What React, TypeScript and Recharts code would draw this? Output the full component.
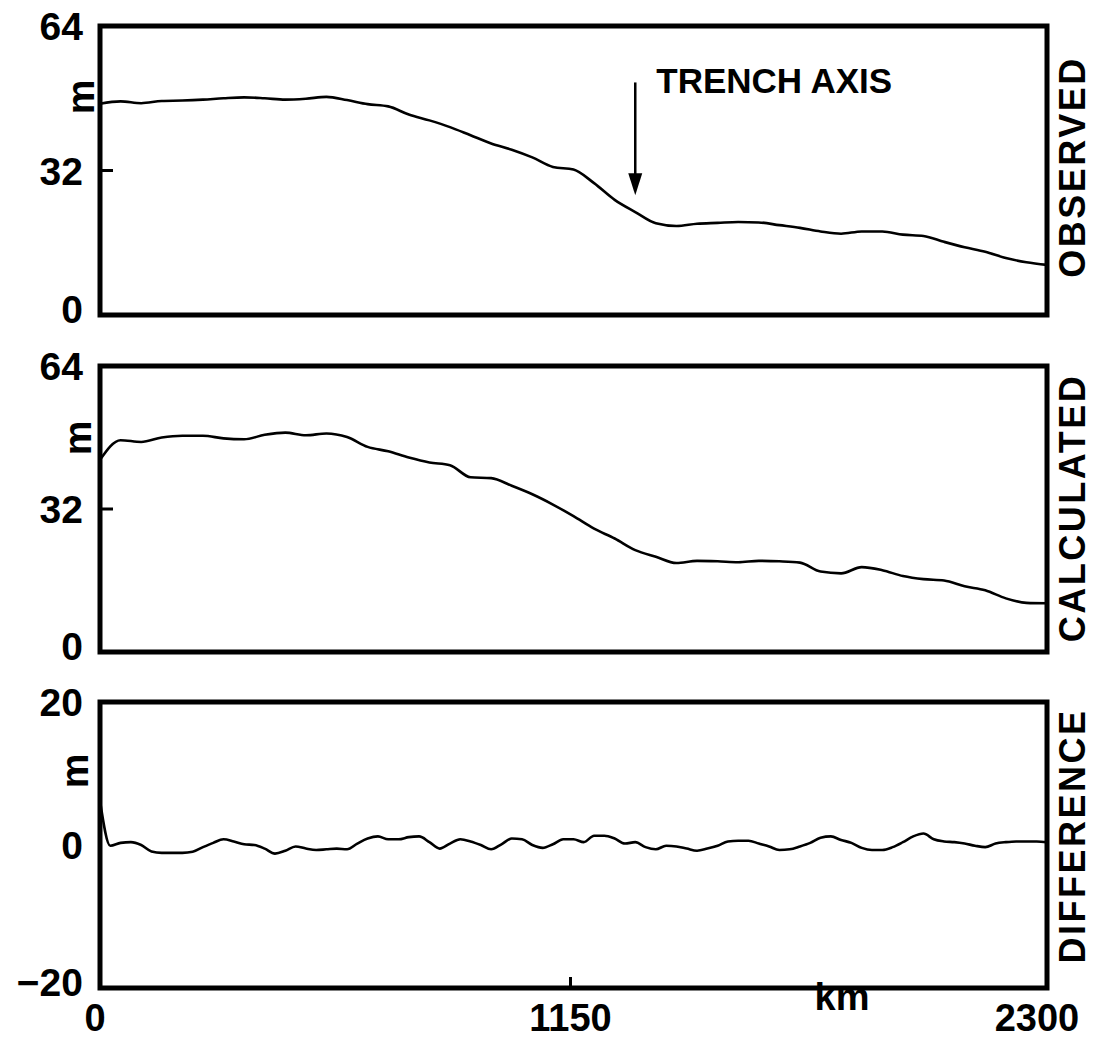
import { Line, LineChart, ReferenceArea, ReferenceLine, XAxis, YAxis } from "recharts";

// distance along profile, km
const kmCoarse = [
  0, 50, 100, 150, 200, 250, 300, 350, 400, 450, 500, 550, 600, 650, 700, 750,
  800, 850, 900, 950, 1000, 1050, 1100, 1150, 1200, 1250, 1300, 1350, 1400,
  1450, 1500, 1550, 1600, 1650, 1700, 1750, 1800, 1850, 1900, 1950, 2000, 2050,
  2100, 2150, 2200, 2250, 2300,
];

// geoid height, m
const observed = [
  46.8, 47.3, 46.9, 47.4, 47.5, 47.7, 48.0, 48.2, 48.0, 47.7, 47.9, 48.3, 47.6,
  46.7, 46.2, 44.4, 43.1, 41.6, 39.8, 38.0, 36.6, 34.9, 32.8, 32.2, 29.2, 25.5,
  22.8, 20.3, 19.7, 20.2, 20.4, 20.6, 20.5, 19.9, 19.3, 18.5, 18.0, 18.5, 18.5,
  17.8, 17.5, 16.2, 15.0, 14.0, 12.6, 11.7, 11.1,
];

const calculated = [
  43.0, 47.4, 47.0, 48.0, 48.4, 48.4, 47.8, 47.6, 48.6, 49.1, 48.5, 48.9, 48.1,
  45.9, 44.9, 43.5, 42.4, 41.8, 39.1, 38.9, 37.2, 35.3, 33.0, 30.4, 27.6, 25.4,
  22.8, 21.3, 19.9, 20.4, 20.3, 20.1, 20.4, 20.3, 20.0, 18.0, 17.6, 19.0, 18.3,
  17.0, 16.3, 16.0, 14.7, 13.8, 12.0, 11.0, 10.9,
];

const kmFine = [
  0, 25, 50, 75, 100, 125, 150, 175, 200, 225, 250, 275, 300, 325, 350, 375,
  400, 425, 450, 475, 500, 525, 550, 575, 600, 625, 650, 675, 700, 725, 750,
  775, 800, 825, 850, 875, 900, 925, 950, 975, 1000, 1025, 1050, 1075, 1100,
  1125, 1150, 1175, 1200, 1225, 1250, 1275, 1300, 1325, 1350, 1375, 1400, 1425,
  1450, 1475, 1500, 1525, 1550, 1575, 1600, 1625, 1650, 1675, 1700, 1725, 1750,
  1775, 1800, 1825, 1850, 1875, 1900, 1925, 1950, 1975, 2000, 2025, 2050, 2075,
  2100, 2125, 2150, 2175, 2200, 2225, 2250, 2275, 2300,
];

const difference = [
  6.2, -0.1, 0.3, 0.4, 0.0, -0.9, -1.1, -1.1, -1.1, -0.95, -0.3, 0.3, 0.8, 0.5,
  0.1, 0.0, -0.5, -1.2, -0.8, -0.2, -0.5, -0.7, -0.6, -0.5, -0.6, 0.2, 0.9, 1.2,
  0.8, 0.8, 1.1, 1.2, 0.4, -0.5, 0.2, 0.8, 0.5, 0.0, -0.6, 0.1, 0.9, 0.8, 0.0,
  -0.4, 0.1, 0.8, 0.8, 0.4, 1.3, 1.3, 0.9, 0.2, 0.4, -0.3, -0.6, -0.1, -0.2,
  -0.5, -0.8, -0.5, -0.1, 0.5, 0.6, 0.6, 0.2, -0.2, -0.7, -0.6, -0.2, 0.3, 1.0,
  1.2, 0.7, 0.3, -0.4, -0.7, -0.7, -0.3, 0.4, 1.2, 1.6, 0.8, 0.5, 0.4, 0.2,
  -0.1, -0.3, 0.2, 0.4, 0.5, 0.5, 0.5, 0.4,
];

const xTicks = [0, 1150, 2300];
const heightTicks = [0, 32, 64];
const diffTicks = [-20, 0, 20];

const FONT = "'Liberation Sans', Arial, Helvetica, sans-serif";
const W = 1104;
const YW = 60;
const PLOT_LEFT = 100;
const PLOT_RIGHT = 1047;

const obsData = kmCoarse.map((km, i) => ({ km, v: observed[i] }));
const calcData = kmCoarse.map((km, i) => ({ km, v: calculated[i] }));
const diffData = kmFine.map((km, i) => ({ km, v: difference[i] }));

function yTick(inner: number[], lowest: number) {
  return (p: any) => {
    const v = p.payload.value;
    return (
      <g>
        <text
          x={p.x}
          y={p.y + (v === lowest ? -6 : 0)}
          dy="0.36em"
          textAnchor="end"
          fontFamily={FONT}
          fontWeight="bold"
          fontSize={39}
          fill="#000"
        >
          {String(v).replace("-", "\u2212")}
        </text>
        {inner.includes(v) && (
          <line x1={p.x + 17} x2={p.x + 30} y1={p.y} y2={p.y} stroke="#000" strokeWidth={3} />
        )}
      </g>
    );
  };
}

function xTick(p: any) {
  const v = p.payload.value;
  const dx = v === 2300 ? -10 : v === 0 ? -5 : -3;
  return (
    <g>
      <text
        x={p.x + dx}
        y={p.y}
        dy="0.72em"
        textAnchor="middle"
        fontFamily={FONT}
        fontWeight="bold"
        fontSize={38}
        fill="#000"
      >
        {v}
      </text>
      {v === 1150 && (
        <line x1={p.x - 3} x2={p.x - 3} y1={p.y - 18} y2={p.y - 27} stroke="#000" strokeWidth={3} />
      )}
    </g>
  );
}

function trenchArrow(p: any) {
  const { x1, y1, x2, y2 } = p;
  return (
    <g>
      <line x1={x1} y1={y1} x2={x2} y2={y2 - 18} stroke="#000" strokeWidth={2.5} />
      <path d={`M${x2 - 7},${y2 - 22} L${x2 + 7},${y2 - 22} L${x2},${y2} Z`} fill="#000" />
      <text
        x={x1 + 21}
        y={y1 + 11}
        fontFamily={FONT}
        fontWeight="bold"
        fontSize={35}
        fill="#000"
      >
        TRENCH AXIS
      </text>
    </g>
  );
}

type PanelProps = {
  data: { km: number; v: number }[];
  domain: [number, number];
  ticks: number[];
  inner: number[];
  top: number;
  height: number;
  mTop: number;
  mBottom: number;
  showX?: boolean;
  arrow?: boolean;
};

function Panel({ data, domain, ticks, inner, top, height, mTop, mBottom, showX, arrow }: PanelProps) {
  return (
    <div style={{ position: "absolute", left: 0, top }}>
      <LineChart
        width={W}
        height={height}
        data={data}
        margin={{ top: mTop, bottom: mBottom, left: PLOT_LEFT - YW, right: W - PLOT_RIGHT }}
      >
        <XAxis
          dataKey="km"
          type="number"
          domain={[0, 2300]}
          ticks={xTicks}
          hide={!showX}
          axisLine={false}
          tickLine={false}
          tickSize={0}
          tickMargin={16}
          height={40}
          tick={xTick}
        />
        <YAxis
          type="number"
          domain={domain}
          ticks={ticks}
          width={YW}
          axisLine={false}
          tickLine={false}
          tickSize={0}
          tickMargin={17}
          tick={yTick(inner, domain[0])}
        />
        <ReferenceArea
          x1={0}
          x2={2300}
          y1={domain[0]}
          y2={domain[1]}
          fill="none"
          stroke="#000"
          strokeWidth={5}
          ifOverflow="visible"
        />
        {arrow && (
          <ReferenceLine
            segment={[
              { x: 1300, y: 51.5 },
              { x: 1300, y: 26.5 },
            ]}
            ifOverflow="visible"
            shape={trenchArrow}
          />
        )}
        <Line
          type="monotone"
          dataKey="v"
          stroke="#000"
          strokeWidth={2.6}
          dot={false}
          isAnimationActive={false}
        />
      </LineChart>
    </div>
  );
}

const sideText = {
  fontFamily: FONT,
  fontWeight: "bold" as const,
  fontSize: 36,
  letterSpacing: 2.5,
  fill: "#000",
};

export default function App() {
  return (
    <div style={{ position: "absolute", left: 0, top: 0, width: W, height: 1042, background: "#fff" }}>
      <Panel data={obsData} domain={[0, 64]} ticks={heightTicks} inner={[32]} top={0} height={340} mTop={26} mBottom={25} arrow />
      <Panel data={calcData} domain={[0, 64]} ticks={heightTicks} inner={[32]} top={340} height={340} mTop={26} mBottom={28} />
      <Panel data={diffData} domain={[-20, 20]} ticks={diffTicks} inner={[]} top={680} height={362} mTop={22} mBottom={14} showX />
      <svg width={W} height={1042} style={{ position: "absolute", left: 0, top: 0, pointerEvents: "none" }}>
        <text transform="rotate(-90 94 97)" x={94} y={97} textAnchor="middle" {...sideText} fontSize={39} letterSpacing={0}>m</text>
        <text transform="rotate(-90 91 438)" x={91} y={438} textAnchor="middle" {...sideText} fontSize={39} letterSpacing={0}>m</text>
        <text transform="rotate(-90 88 771)" x={88} y={771} textAnchor="middle" {...sideText} fontSize={39} letterSpacing={0}>m</text>
        <text transform="rotate(-90 1085 167)" x={1085} y={167} textAnchor="middle" {...sideText}>OBSERVED</text>
        <text transform="rotate(-90 1085 508)" x={1085} y={508} textAnchor="middle" {...sideText}>CALCULATED</text>
        <text transform="rotate(-90 1085 836)" x={1085} y={836} textAnchor="middle" {...sideText}>DIFFERENCE</text>
        <text x={842} y={1010} textAnchor="middle" {...sideText} fontSize={38} letterSpacing={0}>km</text>
      </svg>
    </div>
  );
}
